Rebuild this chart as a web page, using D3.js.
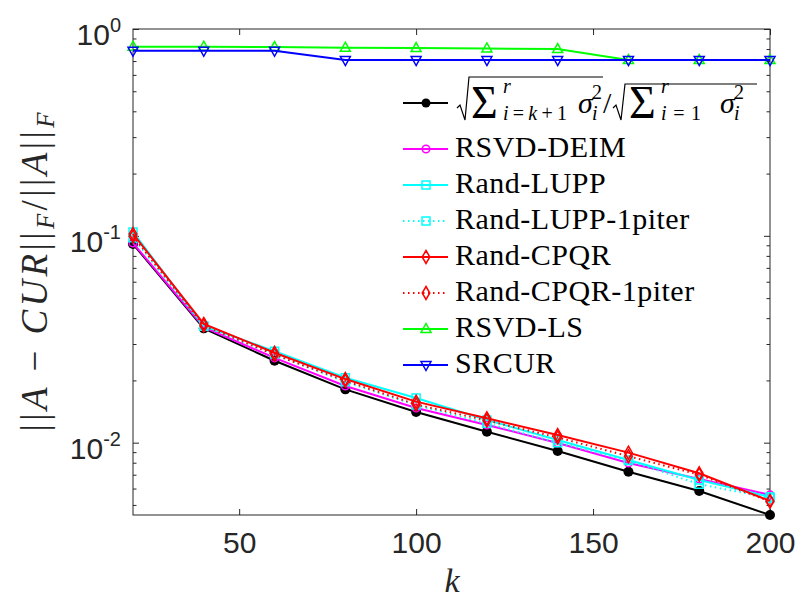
<!DOCTYPE html>
<html>
<head>
<meta charset="utf-8">
<script src="https://cdn.jsdelivr.net/npm/d3@7"></script>
<style>
  body { margin: 0; background: #fff; }
  text { font-family: "Liberation Sans", Arial, sans-serif; }
  .serif { font-family: "Liberation Serif", "Times New Roman", serif; }
</style>
</head>
<body>
<svg id="chart" width="798" height="599"></svg>
<script>
// Number of sampled columns/rows k
const kValues = [20, 40, 60, 80, 100, 120, 140, 160, 180, 200];

// Relative Frobenius-norm errors for each method
const tailSingular = [0.0913, 0.0357, 0.0249, 0.0181, 0.01407, 0.0113, 0.00912, 0.00724, 0.00584, 0.00447];
const rsvdDeim     = [0.0923, 0.0362, 0.0257, 0.0188, 0.01472, 0.01218, 0.00997, 0.00798, 0.00668, 0.00559];
const randLupp     = [0.1044, 0.0367, 0.0277, 0.0206, 0.01645, 0.01288, 0.0103, 0.00825, 0.0066, 0.00546];
const randLupp1    = [0.0980, 0.0365, 0.0268, 0.0197, 0.0152, 0.0124, 0.0100, 0.0082, 0.0063, 0.0054];
const randCpqr     = [0.1021, 0.0375, 0.0272, 0.0203, 0.01579, 0.01312, 0.01089, 0.00895, 0.00711, 0.00523];
const randCpqr1    = [0.0995, 0.0368, 0.0266, 0.0199, 0.0153, 0.0128, 0.0106, 0.0086, 0.0070, 0.0052];
const rsvdLs       = [0.821, 0.821, 0.818, 0.812, 0.809, 0.805, 0.800, 0.708, 0.708, 0.708];
const srcur        = [0.785, 0.785, 0.785, 0.708, 0.708, 0.708, 0.708, 0.708, 0.708, 0.708];

const seriesNames = ["tail", "RSVD-DEIM", "Rand-LUPP", "Rand-LUPP-1piter", "Rand-CPQR",
                     "Rand-CPQR-1piter", "RSVD-LS", "SRCUR"];

// Axis ticks
const xTicks = [50, 100, 150, 200];
const yTicks = [1e-2, 1e-1, 1];
const yTickExponents = ["-2", "-1", "0"];

const series = [
  { name: seriesNames[0], values: tailSingular, color: "#000000", dash: null, marker: "dot" },
  { name: seriesNames[1], values: rsvdDeim,     color: "#ff00ff", dash: null, marker: "circle" },
  { name: seriesNames[2], values: randLupp,     color: "#00ffff", dash: null, marker: "square" },
  { name: seriesNames[3], values: randLupp1,    color: "#00ffff", dash: "1.5,3.5", marker: "square" },
  { name: seriesNames[4], values: randCpqr,     color: "#ff0000", dash: null, marker: "diamond" },
  { name: seriesNames[5], values: randCpqr1,    color: "#ff0000", dash: "1.5,3.5", marker: "diamond" },
  { name: seriesNames[6], values: rsvdLs,       color: "#00ff00", dash: null, marker: "up" },
  { name: seriesNames[7], values: srcur,        color: "#0000ff", dash: null, marker: "down" }
];

const svg = d3.select("#chart");
const plot = { left: 133, right: 770, top: 29, bottom: 515 };
const axisColor = "#262626";

const x = d3.scaleLinear().domain([20, 200]).range([plot.left, plot.right]);
const y = d3.scaleLog().domain([0.00447, 1]).range([plot.bottom, plot.top]);

// Marker shapes
function markerPath(type) {
  switch (type) {
    case "square":  return "M-4,-4H4V4H-4Z";
    case "diamond": return "M0,-6.5L3.8,0L0,6.5L-3.8,0Z";
    case "up":      return "M0,-5.5L5,3.5L-5,3.5Z";
    case "down":    return "M0,5.5L5,-3.5L-5,-3.5Z";
    default:        return null;
  }
}
function drawMarker(g, type, color, cx, cy) {
  if (type === "dot") {
    g.append("circle").attr("cx", cx).attr("cy", cy).attr("r", 5).attr("fill", color);
  } else if (type === "circle") {
    g.append("circle").attr("cx", cx).attr("cy", cy).attr("r", 3.8)
      .attr("fill", "none").attr("stroke", color).attr("stroke-width", 1.5);
  } else {
    g.append("path").attr("d", markerPath(type)).attr("transform", `translate(${cx},${cy})`)
      .attr("fill", "none").attr("stroke", color).attr("stroke-width", 1.5);
  }
}

// Axes box
const box = svg.append("g");
box.append("rect").attr("x", plot.left).attr("y", plot.top)
  .attr("width", plot.right - plot.left).attr("height", plot.bottom - plot.top)
  .attr("fill", "none").attr("stroke", axisColor).attr("stroke-width", 1);

// X ticks (inside, bottom and top)
const xAxisBottom = d3.axisBottom(x).tickValues(xTicks).tickSize(-6).tickPadding(24).tickFormat(d3.format("d"));
const gxb = svg.append("g").attr("transform", `translate(0,${plot.bottom})`).call(xAxisBottom);
gxb.select(".domain").remove();
gxb.selectAll(".tick text").attr("font-size", 30).attr("fill", axisColor)
  .attr("font-family", "Liberation Sans, Arial, sans-serif").attr("dy", "0.5em").attr("y", 23);
const xAxisTop = d3.axisTop(x).tickValues(xTicks).tickSize(-6).tickFormat("");
const gxt = svg.append("g").attr("transform", `translate(0,${plot.top})`).call(xAxisTop);
gxt.select(".domain").remove();

// Y ticks: major and minor (log scale), inside on both sides
const minorTicks = y.ticks().filter(v => !yTicks.some(t => Math.abs(t - v) / t < 1e-9));
[[d3.axisLeft, plot.left], [d3.axisRight, plot.right]].forEach(([axisFn, pos]) => {
  const gMajor = svg.append("g").attr("transform", `translate(${pos},0)`)
    .call(axisFn(y).tickValues(yTicks).tickSize(-6).tickFormat(""));
  gMajor.select(".domain").remove();
  const gMinor = svg.append("g").attr("transform", `translate(${pos},0)`)
    .call(axisFn(y).tickValues(minorTicks).tickSize(-3.5).tickFormat(""));
  gMinor.select(".domain").remove();
});
svg.selectAll("g.tick line").attr("stroke", axisColor);

// Y tick labels as 10^n
yTicks.forEach((v, i) => {
  const t = svg.append("text").attr("x", 121).attr("y", y(v) + 16)
    .attr("text-anchor", "end").attr("fill", axisColor).attr("font-size", 30);
  t.append("tspan").text("10");
  t.append("tspan").attr("font-size", 20).attr("dy", -13).text(yTickExponents[i]);
});

// Data lines and markers
const line = d3.line().x((d, i) => x(kValues[i])).y(d => y(d));
series.forEach(s => {
  const g = svg.append("g");
  g.append("path").attr("d", line(s.values)).attr("fill", "none")
    .attr("stroke", s.color).attr("stroke-width", 2)
    .attr("stroke-dasharray", s.dash);
  s.values.forEach((v, i) => drawMarker(g, s.marker, s.color, x(kValues[i]), y(v)));
});

// X label
svg.append("text").attr("class", "serif").attr("x", 452).attr("y", 592)
  .attr("text-anchor", "middle").attr("font-size", 34).attr("font-style", "italic")
  .attr("fill", axisColor).text("k");

// Y label: ||A - CUR||_F / ||A||_F
const yl = svg.append("text").attr("class", "serif")
  .attr("transform", `translate(47,${(plot.top + plot.bottom) / 2}) rotate(-90)`)
  .attr("text-anchor", "middle").attr("font-size", 37).attr("fill", axisColor)
  .attr("textLength", 319).attr("lengthAdjust", "spacing");
yl.append("tspan").text("||");
yl.append("tspan").attr("font-style", "italic").text("A");
yl.append("tspan").text(" \u2212 ");
yl.append("tspan").attr("font-style", "italic").text("CUR");
yl.append("tspan").text("||");
yl.append("tspan").attr("font-style", "italic").attr("font-size", 25).attr("dy", 7).text("F");
yl.append("tspan").attr("dy", -7).text("/||");
yl.append("tspan").attr("font-style", "italic").text("A");
yl.append("tspan").text("||");
yl.append("tspan").attr("font-style", "italic").attr("font-size", 25).attr("dy", 7).text("F");

// Legend
const legend = svg.append("g");
const legendRows = [103, 149, 185, 221, 257, 293, 329, 365];
const legendLabels = [null, "RSVD-DEIM", "Rand-LUPP", "Rand-LUPP-1piter", "Rand-CPQR",
                      "Rand-CPQR-1piter", "RSVD-LS", "SRCUR"];
series.forEach((s, i) => {
  const ry = legendRows[i];
  legend.append("line").attr("x1", 403).attr("x2", 448).attr("y1", ry).attr("y2", ry)
    .attr("stroke", s.color).attr("stroke-width", 2).attr("stroke-dasharray", s.dash);
  if (s.marker === "dot") {
    legend.append("circle").attr("cx", 426).attr("cy", ry).attr("r", 4.5).attr("fill", s.color);
  } else {
    drawMarker(legend, s.marker, s.color, 426, ry);
  }
  if (legendLabels[i]) {
    legend.append("text").attr("class", "serif").attr("x", 455).attr("y", ry + 8)
      .attr("font-size", 30).attr("letter-spacing", 0.5).attr("fill", "#000").text(legendLabels[i]);
  }
});

// First legend entry: sqrt(sum_{i=k+1}^r sigma_i^2) / sqrt(sum_{i=1}^r sigma_i^2)
(function formula() {
  const g = legend.append("g");
  const base = 113;
  function txt(str, size, xx, yy, italic, width) {
    const t = g.append("text").attr("class", "serif").attr("x", xx).attr("y", yy)
      .attr("font-size", size).attr("font-style", italic ? "italic" : "normal").attr("fill", "#000");
    if (Array.isArray(str)) {
      str.forEach(p => t.append("tspan").attr("font-style", p[1] ? "italic" : "normal").text(p[0]));
    } else t.text(str);
    if (width) t.attr("textLength", width).attr("lengthAdjust", "spacing");
  }
  function radical(x0, top, x1) {
    g.append("path")
      .attr("d", `M${x0},${base - 5} L${x0 + 3},${base - 8} L${x0 + 8},${base + 7} L${x0 + 12},${top} L${x1},${top}`)
      .attr("fill", "none").attr("stroke", "#000").attr("stroke-width", 1.2);
  }
  function sumBlock(b) {
    radical(b.r, b.top, b.end);
    txt("\u03A3", 46, b.s, base + 5, false);
    txt("r", 20, b.lim, base - 20, true);
    txt(b.sub, 20, b.lim, base + 7, false, b.subW);
    txt("\u03C3", 30, b.sig, base, true);
    txt("2", 20, b.sig + 14, base - 14, false);
    txt("i", 20, b.sig + 14, base + 7, true);
  }
  sumBlock({ r: 457, s: 471, lim: 503, sub: [["i", true], ["=", false], ["k", true], ["+1", false]],
             subW: 64, sig: 578, end: 603, top: 77 });
  txt("/", 30, 603, base, false);
  sumBlock({ r: 613, s: 629, lim: 661, sub: [["i", true], ["=1", false]],
             subW: 40, sig: 720, end: 757, top: 84 });
})();
</script>
</body>
</html>
